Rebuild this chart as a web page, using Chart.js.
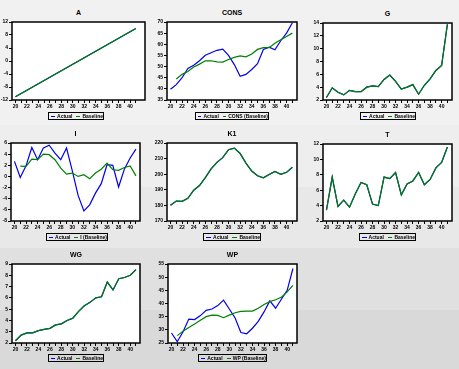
<!DOCTYPE html>
<html>
<head>
<meta charset="utf-8">
<script src="https://cdn.jsdelivr.net/npm/chart.js@4.4.1/dist/chart.umd.min.js"></script>
<style>
    html, body { margin: 0; padding: 0; }
    body {
        width: 459px; height: 369px; position: relative; overflow: hidden;
        font-family: Arial, "Liberation Sans", sans-serif;
        background: linear-gradient(to bottom,
            #f1f1f1 0, #f1f1f1 125px,
            #eeeeee 125px, #eeeeee 187px,
            #e8e8e8 187px, #e8e8e8 248px,
            #e0e0e0 248px, #e0e0e0 310px,
            #d9d9d9 310px, #d9d9d9 369px);
    }
    .cv     { position: absolute; }
    .titre  { position: absolute; font-size: 7px; font-weight: bold; text-align: center; width: 60px; }
    .legende {
        position: absolute; height: 6px; border: 1px solid #000;
        display: flex; align-items: center; justify-content: center;
        font-size: 5px; font-weight: bold; white-space: nowrap; line-height: 6px;
    }
    .legende .trait { display: inline-block; width: 11px; height: 1px; margin: 0 2px 0 2px; }
</style>
</head>
<body>
<script>
// ---------------------------------------------------------------------------
// DONNÉES
// ---------------------------------------------------------------------------

const YEARS = [1920, 1921, 1922, 1923, 1924, 1925, 1926, 1927, 1928, 1929, 1930,
               1931, 1932, 1933, 1934, 1935, 1936, 1937, 1938, 1939, 1940, 1941];
const X_TICK_LABELS = ['20', '22', '24', '26', '28', '30', '32', '34', '36', '38', '40'];

const A_ACTUAL    = [-11, -10, -9, -8, -7, -6, -5, -4, -3, -2, -1, 0, 1, 2, 3, 4, 5, 6, 7, 8, 9, 10];
const CONS_ACTUAL = [39.8, 41.9, 45.0, 49.2, 50.6, 52.6, 55.1, 56.2, 57.3, 57.8, 55.0,
                     50.9, 45.6, 46.5, 48.7, 51.3, 57.7, 58.7, 57.5, 61.6, 65.0, 69.7];
const CONS_BASE   = [null, 44.4, 46.5, 47.8, 49.8, 51.1, 52.6, 52.6, 52.1, 52.0, 53.2,
                     54.1, 54.8, 54.4, 55.6, 57.7, 58.5, 58.5, 60.5, 62.0, 63.5, 65.0];
const G_ACTUAL    = [2.4, 3.9, 3.2, 2.8, 3.5, 3.3, 3.3, 4.0, 4.2, 4.1, 5.2,
                     5.9, 4.9, 3.7, 4.0, 4.4, 2.9, 4.3, 5.3, 6.6, 7.4, 13.8];
const I_ACTUAL    = [2.7, -0.2, 1.9, 5.2, 3.0, 5.1, 5.6, 4.2, 3.0, 5.1, 1.0,
                     -3.4, -6.2, -5.1, -3.0, -1.3, 2.1, 2.0, -1.9, 1.3, 3.3, 4.9];
const I_BASE      = [null, 1.85, 1.8, 3.1, 3.0, 4.0, 3.9, 3.0, 1.5, 0.4, 0.6,
                     0.0, 0.3, -0.4, 0.6, 1.3, 2.4, 1.2, 1.1, 1.6, 1.9, 0.1];
const K1_ACTUAL   = [180.1, 182.8, 182.6, 184.5, 189.7, 192.7, 197.8, 203.4, 207.6, 210.6, 215.7,
                     216.7, 213.3, 207.1, 202.0, 199.0, 197.7, 199.8, 201.8, 199.9, 201.2, 204.5];
const T_ACTUAL    = [3.4, 7.7, 3.9, 4.7, 3.8, 5.5, 7.0, 6.7, 4.2, 4.0, 7.7,
                     7.5, 8.3, 5.4, 6.8, 7.2, 8.3, 6.7, 7.4, 8.9, 9.6, 11.6];
const WG_ACTUAL   = [2.2, 2.7, 2.9, 2.9, 3.1, 3.2, 3.3, 3.6, 3.7, 4.0, 4.2,
                     4.8, 5.3, 5.6, 6.0, 6.1, 7.4, 6.7, 7.7, 7.8, 8.0, 8.5];
const WP_ACTUAL   = [28.8, 25.5, 29.3, 34.1, 33.9, 35.4, 37.4, 37.9, 39.2, 41.3, 37.9,
                     34.5, 29.0, 28.5, 30.6, 33.2, 36.8, 41.0, 38.2, 41.6, 45.0, 53.3];
const WP_BASE     = [null, 27.8, 29.5, 30.9, 32.2, 33.6, 35.0, 35.6, 35.5, 34.6, 35.6,
                     36.5, 37.0, 37.1, 37.1, 38.2, 39.6, 40.7, 41.4, 42.4, 44.4, 46.9];

const Y_TICKS_A    = [-12, -8, -4, 0, 4, 8, 12];
const Y_TICKS_CONS = [35, 40, 45, 50, 55, 60, 65, 70];
const Y_TICKS_G    = [2, 4, 6, 8, 10, 12, 14];
const Y_TICKS_I    = [-8, -6, -4, -2, 0, 2, 4, 6];
const Y_TICKS_K1   = [170, 180, 190, 200, 210, 220];
const Y_TICKS_T    = [2, 4, 6, 8, 10, 12];
const Y_TICKS_WG   = [2, 3, 4, 5, 6, 7, 8, 9];
const Y_TICKS_WP   = [25, 30, 35, 40, 45, 50, 55];

// ---------------------------------------------------------------------------
// MISE EN PAGE (cadre : gauche, haut, droite, bas)
// ---------------------------------------------------------------------------

const PANNEAUX = [
    { nom: 'A',    act: A_ACTUAL,    base: A_ACTUAL,  lib: 'Baseline',        ticks: Y_TICKS_A,    cadre: [12, 22, 145, 100],  xMax: 1942.6, leg: [48, 112, 54] },
    { nom: 'CONS', act: CONS_ACTUAL, base: CONS_BASE, lib: 'CONS (Baseline)', ticks: Y_TICKS_CONS, cadre: [167, 22, 297, 100], xMax: 1941.8, leg: [195, 112, 72] },
    { nom: 'G',    act: G_ACTUAL,    base: G_ACTUAL,  lib: 'Baseline',        ticks: Y_TICKS_G,    cadre: [323, 23, 452, 100], xMax: 1941.8, leg: [360, 112, 54] },
    { nom: 'I',    act: I_ACTUAL,    base: I_BASE,    lib: 'I (Baseline)',    ticks: Y_TICKS_I,    cadre: [11, 143, 140, 221], xMax: 1941.7, leg: [46, 233, 60] },
    { nom: 'K1',   act: K1_ACTUAL,   base: K1_ACTUAL, lib: 'Baseline',        ticks: Y_TICKS_K1,   cadre: [167, 143, 297, 221], xMax: 1941.8, leg: [203, 233, 56] },
    { nom: 'T',    act: T_ACTUAL,    base: T_ACTUAL,  lib: 'Baseline',        ticks: Y_TICKS_T,    cadre: [323, 144, 452, 221], xMax: 1941.8, leg: [359, 233, 55] },
    { nom: 'WG',   act: WG_ACTUAL,   base: WG_ACTUAL, lib: 'Baseline',        ticks: Y_TICKS_WG,   cadre: [12, 264, 140, 343],  xMax: 1941.7, leg: [48, 354, 54] },
    { nom: 'WP',   act: WP_ACTUAL,   base: WP_BASE,   lib: 'WP (Baseline)',   ticks: Y_TICKS_WP,   cadre: [168, 264, 297, 343], xMax: 1941.7, leg: [198, 354, 67] },
];

const BLEU = '#0000f0';
const VERT = '#008000';
const AXE_G = 13, AXE_B = 13, PAD_H = 4, PAD_D = 6;
const POLICE = { size: 5, weight: 'bold', family: 'Arial, "Liberation Sans", sans-serif' };

// fond blanc + cadre noir autour de la zone de tracé
const pluginCadre = {
    id: 'cadre',
    beforeDraw(chart) {
        const { left, top, right, bottom } = chart.chartArea;
        const ctx = chart.ctx;
        ctx.save();
        ctx.fillStyle = '#fff';
        ctx.fillRect(left, top, right - left, bottom - top);
        ctx.restore();
    },
    afterDatasetsDraw(chart) {
        const { left, top, right, bottom } = chart.chartArea;
        const ctx = chart.ctx;
        ctx.save();
        ctx.strokeStyle = '#000';
        ctx.lineWidth = 1.5;
        ctx.strokeRect(left, top, right - left, bottom - top);
        ctx.restore();
    },
};

function points(serie) {
    return YEARS.map((an, i) => ({ x: an, y: serie[i] }));
}

function creerPanneau(p) {
    const [g, h, d, b] = p.cadre;
    const larg = d - g + AXE_G + PAD_D;
    const haut = b - h + PAD_H + AXE_B;

    const canvas = document.createElement('canvas');
    canvas.className = 'cv';
    canvas.style.left = (g - AXE_G) + 'px';
    canvas.style.top  = (h - PAD_H) + 'px';
    canvas.width = larg; canvas.height = haut;
    canvas.style.width = larg + 'px'; canvas.style.height = haut + 'px';
    document.body.appendChild(canvas);

    // titre
    const titre = document.createElement('div');
    titre.className = 'titre';
    titre.textContent = p.nom;
    titre.style.left = ((g + d) / 2 - 30) + 'px';
    titre.style.top  = (h - 13) + 'px';
    document.body.appendChild(titre);

    // légende
    const [lx, ly, lw] = p.leg;
    const leg = document.createElement('div');
    leg.className = 'legende';
    leg.style.left = lx + 'px'; leg.style.top = ly + 'px'; leg.style.width = lw + 'px';
    leg.innerHTML = `<span class="trait" style="background:${BLEU}"></span>Actual` +
                    `<span class="trait" style="background:${VERT};margin-left:4px"></span>${p.lib}`;
    document.body.appendChild(leg);

    new Chart(canvas, {
        type: 'line',
        data: {
            datasets: [
                { label: 'Actual', data: points(p.act), borderColor: BLEU, borderWidth: 1.2, order: 1 },
                { label: p.lib,    data: points(p.base), borderColor: VERT, borderWidth: 1.2, order: 0 },
            ],
        },
        options: {
            responsive: false,
            animation: false,
            events: [],
            elements: { point: { radius: 0 }, line: { tension: 0 } },
            layout: { padding: { top: PAD_H, right: PAD_D, left: 0, bottom: 0 } },
            plugins: { legend: { display: false }, title: { display: false }, tooltip: { enabled: false } },
            scales: {
                x: {
                    type: 'linear',
                    min: 1919.4,
                    max: p.xMax,
                    border: { display: false },
                    grid: { drawOnChartArea: false, drawTicks: true, tickLength: 3, color: '#000', lineWidth: 1 },
                    ticks: {
                        autoSkip: false, maxRotation: 0, padding: 1, color: '#000', font: POLICE,
                        callback: v => (v % 2 === 0 ? X_TICK_LABELS[(v - 1920) / 2] : ''),
                    },
                    afterBuildTicks: s => { s.ticks = YEARS.map(v => ({ value: v })); },
                    afterFit: s => { s.height = AXE_B; s.paddingLeft = 0; s.paddingRight = 0; },
                },
                y: {
                    min: p.ticks[0],
                    max: p.ticks[p.ticks.length - 1],
                    border: { display: false },
                    grid: { drawOnChartArea: false, drawTicks: true, tickLength: 3, color: '#000', lineWidth: 1 },
                    ticks: { padding: 1, color: '#000', font: POLICE },
                    afterBuildTicks: s => { s.ticks = p.ticks.map(v => ({ value: v })); },
                    afterFit: s => { s.width = AXE_G; s.paddingTop = 0; s.paddingBottom = 0; },
                },
            },
        },
        plugins: [pluginCadre],
    });
}

PANNEAUX.forEach(creerPanneau);
</script>
</body>
</html>
